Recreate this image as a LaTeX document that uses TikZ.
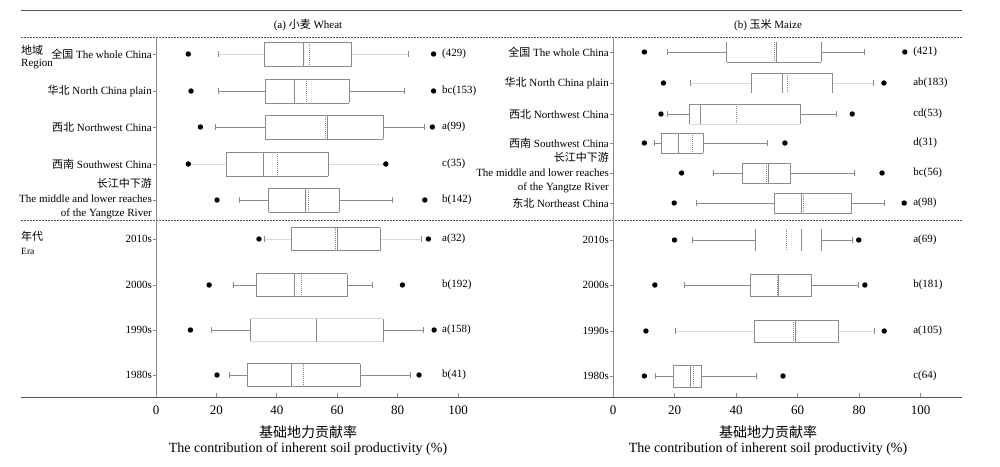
\documentclass[tikz,border=0pt]{standalone}
\usepackage{fontspec}
\setmainfont{Liberation Serif}
\newfontfamily\cjk{Noto Sans CJK SC}
\definecolor{boxc}{HTML}{8A8A8A}
\definecolor{faintc}{HTML}{DADADA}
\definecolor{axc}{HTML}{8C8C8C}
\definecolor{darkc}{HTML}{555555}
\begin{document}
\begin{tikzpicture}[x=1pt,y=-1pt,
  bx/.style={draw=boxc, line width=0.6pt},
  fbx/.style={draw=faintc, line width=0.6pt},
  nobx/.style={draw=none},
  wk/.style={draw=boxc, line width=0.6pt},
  fw/.style={draw=faintc, line width=0.6pt},
  medl/.style={draw=boxc, line width=0.7pt},
  meanl/.style={draw=boxc, line width=0.6pt, dash pattern=on 1pt off 1pt},
  dot/.style={circle, fill=black, inner sep=0pt, minimum size=5.4pt},
  rowlab/.style={anchor=east, inner sep=0pt, font=\fontsize{11}{14.5}\selectfont, align=right},
  grp/.style={anchor=west, inner sep=0pt, font=\fontsize{11}{13}\selectfont},
  siglab/.style={anchor=west, inner sep=0pt, font=\fontsize{11}{13}\selectfont},
  ticklab/.style={inner sep=0pt, font=\fontsize{13}{15}\selectfont},
  axtitle/.style={inner sep=0pt, font=\fontsize{14}{16}\selectfont},
  ptitle/.style={inner sep=0pt, font=\fontsize{11}{13}\selectfont},
  axline/.style={draw=axc, line width=0.8pt},
  hline/.style={draw=darkc, line width=1pt},
  dline/.style={draw=darkc, line width=0.7pt, dash pattern=on 1.6pt off 1.4pt}]
\useasboundingbox (0,0) rectangle (1000,466);

% frame lines
\draw[hline] (21,10) -- (962,10);
\draw[dline] (21,37) -- (962,37);
\draw[dline] (21,220) -- (962,220);
\draw[hline] (21,397) -- (962,397);

% panel titles
\node[ptitle] (ta) at (308,25) {(a) {\cjk 小麦} Wheat};
\node[ptitle] (tb) at (768,25) {(b) {\cjk 玉米} Maize};

% group labels
\node[grp] (g1) at (21,50) {\cjk 地域};
\node[grp] (g2) at (21,64) {Region};
\node[grp] (g3) at (21,236) {\cjk 年代};
\node[grp, font=\fontsize{9.5}{11}\selectfont] (g4) at (21,251) {Era};

% left row labels
\node[rowlab] (l1) at (152,54) {{\cjk 全国} The whole China};
\node[rowlab] (l2) at (152,91) {{\cjk 华北} North China plain};
\node[rowlab] (l3) at (152,127) {{\cjk 西北} Northwest China};
\node[rowlab] (l4) at (152,164) {{\cjk 西南} Southwest China};
\node[rowlab] (l5) at (152,199) {{\cjk 长江中下游}\\The middle and lower reaches\\of the Yangtze River};
\node[rowlab] (l6) at (152,239) {2010s};
\node[rowlab] (l7) at (152,285) {2000s};
\node[rowlab] (l8) at (152,330) {1990s};
\node[rowlab] (l9) at (152,375) {1980s};

% right row labels
\node[rowlab] (r1) at (609,52) {{\cjk 全国} The whole China};
\node[rowlab] (r2) at (609,83) {{\cjk 华北} North China plain};
\node[rowlab] (r3) at (609,114) {{\cjk 西北} Northwest China};
\node[rowlab] (r4) at (609,143) {{\cjk 西南} Southwest China};
\node[rowlab] (r5) at (609,173) {{\cjk 长江中下游}\\The middle and lower reaches\\of the Yangtze River};
\node[rowlab] (r6) at (609,203) {{\cjk 东北} Northeast China};
\node[rowlab] (r7) at (609,240) {2010s};
\node[rowlab] (r8) at (609,285) {2000s};
\node[rowlab] (r9) at (609,331) {1990s};
\node[rowlab] (r10) at (609,376) {1980s};

% axis titles
\node[axtitle] (xa1) at (308,432) {\cjk 基础地力贡献率};
\node[axtitle] (xa2) at (308,449) {The contribution of inherent soil productivity (\%)};
\node[axtitle] (xb1) at (768,432) {\cjk 基础地力贡献率};
\node[axtitle] (xb2) at (768,449) {The contribution of inherent soil productivity (\%)};

% ---------- left panel ----------
\begin{scope}[xshift=156pt, xscale=3.02]
\draw[axline] (0,37) -- (0,397);
\foreach \v in {0,20,...,100}{
  \draw[axline] (\v,397) -- (\v,393);
  \node[ticklab] at (\v,410) {\v};
}
\foreach \y/\h/\dl/\wl/\qa/\md/\mn/\qb/\wr/\dr/\lb/\ts/\bs/\ws in {
  54/12/10.7/20.6/35.7/48.8/50.6/64.8/83.5/91.9/{(429)}/bx/bx/fw,
  91/12/11.6/20.6/36.1/45.9/49.9/64.0/82.2/91.9/{bc(153)}/bx/bx/wk,
  127/12/14.7/19.7/36.2/56.9/56.0/75.3/88.8/91.5/{a(99)}/bx/bx/wk,
  164/12/10.7/10.7/23.3/35.7/40.0/56.9/76.1/76.1/{c(35)}/bx/bx/fw,
  200/12/20.2/27.5/37.3/49.3/50.3/60.7/78.3/89.0/{b(142)}/bx/bx/wk,
  239/11.5/34.1/36.0/44.8/60.0/59.4/74.3/88.0/90.2/{a(32)}/bx/bx/fw,
  285/11.5/17.6/25.5/33.2/45.9/48.1/63.3/71.7/81.6/{b(192)}/bx/bx/wk,
  330/11.5/11.4/18.4/31.1/53.2/53.2/75.3/88.4/92.1/{a(158)}/fbx/fbx/wk,
  375/11.5/20.2/24.2/30.1/44.8/48.8/67.7/84.2/87.1/{b(41)}/bx/bx/wk}{
  \draw[axline] (-1,\y) -- (0,\y);
  \draw[\ws] (\wl,\y) -- (\qa,\y);
  \draw[\ws] (\qb,\y) -- (\wr,\y);
  \draw[wk] (\wl,{\y-3}) -- (\wl,{\y+3});
  \draw[wk] (\wr,{\y-3}) -- (\wr,{\y+3});
  \draw[bx] (\qa,{\y-\h}) -- (\qa,{\y+\h});
  \draw[bx] (\qb,{\y-\h}) -- (\qb,{\y+\h});
  \draw[\ts] (\qa,{\y-\h}) -- (\qb,{\y-\h});
  \draw[\bs] (\qa,{\y+\h}) -- (\qb,{\y+\h});
  \draw[meanl] (\mn,{\y-\h}) -- (\mn,{\y+\h});
  \draw[medl] (\md,{\y-\h}) -- (\md,{\y+\h});
  \node[dot] at (\dl,\y) {};
  \node[dot] at (\dr,\y) {};
  \node[siglab] at (94.7,\y) {\lb};
}
\end{scope}

% ---------- right panel ----------
\begin{scope}[xshift=613pt, xscale=3.075]
\draw[axline] (0,37) -- (0,397);
\foreach \v in {0,20,...,100}{
  \draw[axline] (\v,397) -- (\v,393);
  \node[ticklab] at (\v,410) {\v};
}
\foreach \y/\h/\dl/\wl/\qa/\md/\mn/\qb/\wr/\dr/\lb/\ts/\bs/\ws in {
  52/10/10.2/17.8/37.0/53.1/52.3/67.8/81.7/94.9/{(421)}/nobx/bx/wk,
  83/10/16.4/25.0/44.9/55.1/56.6/71.3/84.6/88.1/{ab(183)}/bx/nobx/fw,
  114/10/15.6/17.8/24.7/28.3/40.0/60.8/72.7/77.8/{cd(53)}/bx/fbx/wk,
  143/10/10.2/13.3/15.6/21.4/25.8/29.4/50.3/55.9/{d(31)}/bx/bx/wk,
  173/10/22.3/32.6/42.0/50.5/49.9/57.8/78.4/87.5/{bc(56)}/bx/bx/wk,
  203/10/19.9/27.0/52.4/61.3/61.9/77.6/88.2/94.7/{a(98)}/bx/bx/wk,
  240/11/20.0/25.8/46.4/61.3/56.4/67.8/77.8/79.9/{a(69)}/nobx/nobx/wk,
  285/11/13.6/23.2/44.7/53.7/53.5/64.6/79.9/81.9/{b(181)}/bx/bx/wk,
  331/11/10.7/20.4/45.9/59.4/58.6/73.4/85.0/88.2/{a(105)}/bx/bx/fw,
  376/11/10.2/13.9/19.6/25.0/26.1/28.8/46.5/55.3/{c(64)}/bx/bx/wk}{
  \draw[axline] (-1,\y) -- (0,\y);
  \draw[\ws] (\wl,\y) -- (\qa,\y);
  \draw[\ws] (\qb,\y) -- (\wr,\y);
  \draw[wk] (\wl,{\y-3}) -- (\wl,{\y+3});
  \draw[wk] (\wr,{\y-3}) -- (\wr,{\y+3});
  \draw[bx] (\qa,{\y-\h}) -- (\qa,{\y+\h});
  \draw[bx] (\qb,{\y-\h}) -- (\qb,{\y+\h});
  \draw[\ts] (\qa,{\y-\h}) -- (\qb,{\y-\h});
  \draw[\bs] (\qa,{\y+\h}) -- (\qb,{\y+\h});
  \draw[meanl] (\mn,{\y-\h}) -- (\mn,{\y+\h});
  \draw[medl] (\md,{\y-\h}) -- (\md,{\y+\h});
  \node[dot] at (\dl,\y) {};
  \node[dot] at (\dr,\y) {};
  \node[siglab] at (97.6,\y) {\lb};
}
\end{scope}
\end{tikzpicture}
\end{document}
